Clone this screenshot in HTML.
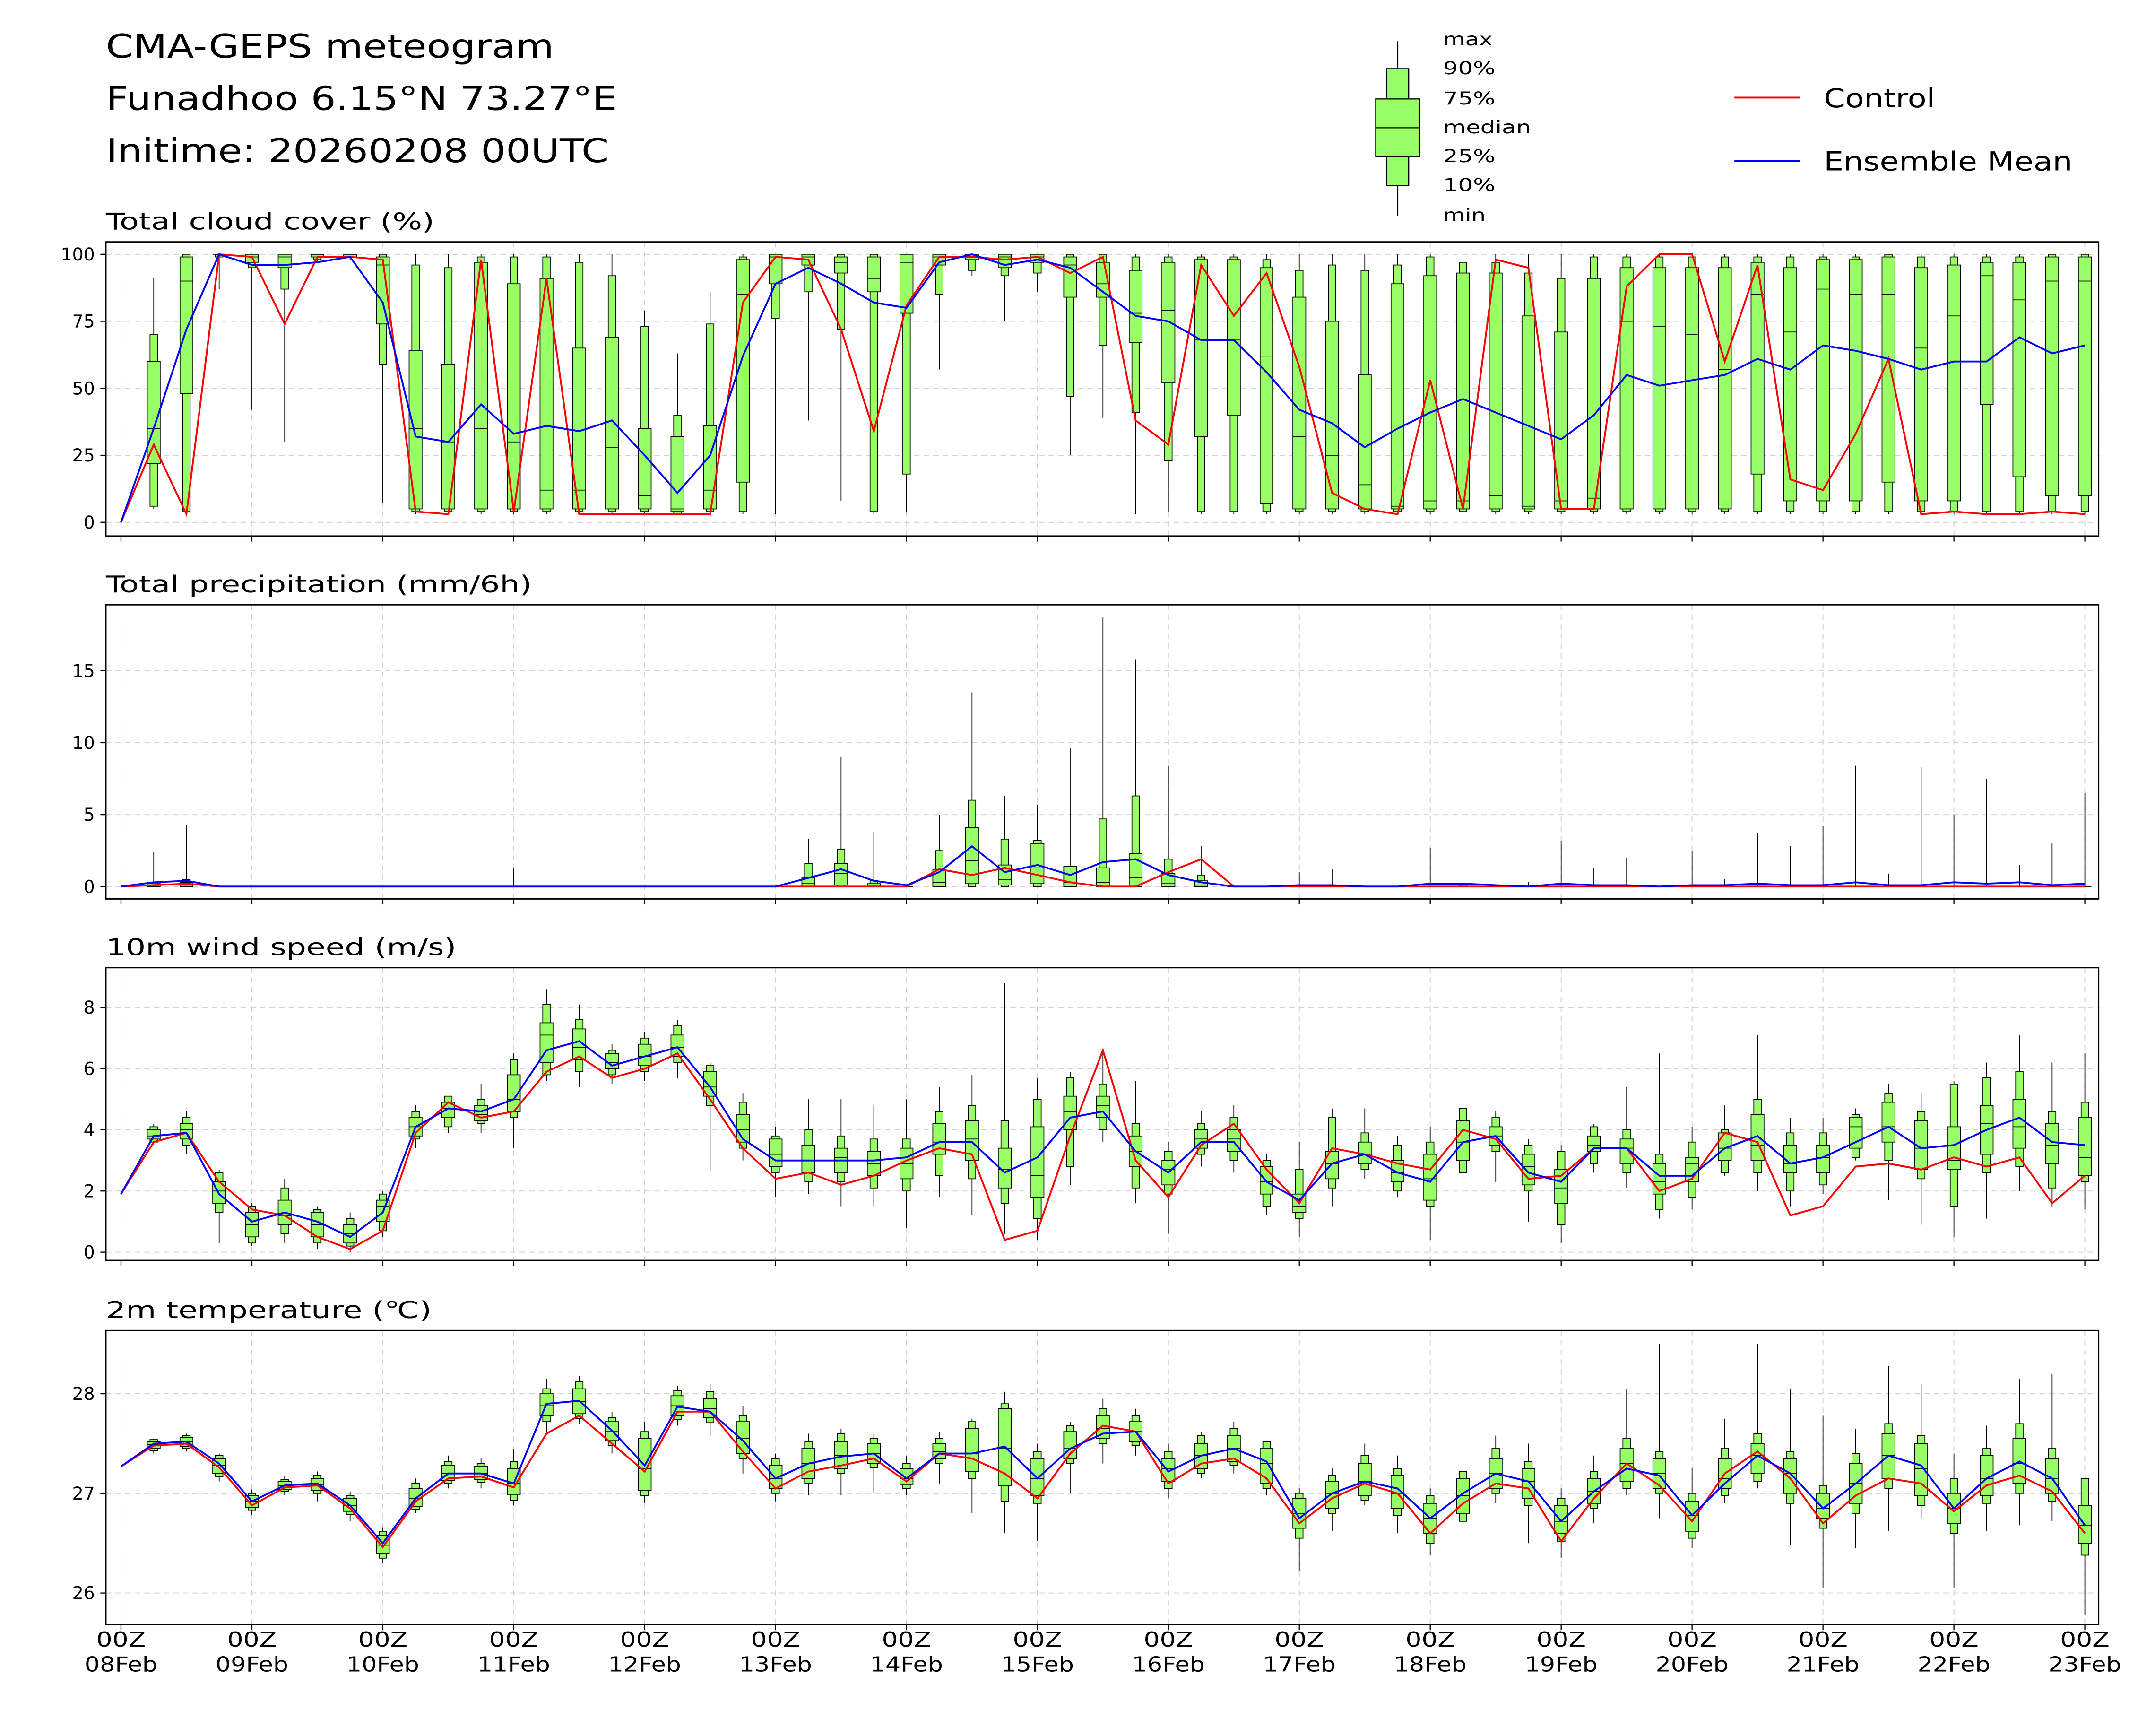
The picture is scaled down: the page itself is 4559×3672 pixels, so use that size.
<!DOCTYPE html>
<html><head><meta charset="utf-8"><style>
html,body{margin:0;padding:0;background:#fff}
svg{display:block}
text{font-family:"DejaVu Sans","Liberation Sans",sans-serif;fill:#000}
</style></head><body>
<svg id="chart" width="4559" height="3672" viewBox="0 0 1568 1263" xmlns="http://www.w3.org/2000/svg">
<rect x="0" y="0" width="1568" height="1263" fill="#fff"/>
<text x="77" y="42" font-size="24" textLength="326" lengthAdjust="spacingAndGlyphs">CMA-GEPS meteogram</text>
<text x="77" y="80" font-size="24" textLength="372" lengthAdjust="spacingAndGlyphs">Funadhoo 6.15°N 73.27°E</text>
<text x="77" y="118" font-size="24" textLength="366" lengthAdjust="spacingAndGlyphs">Initime: 20260208 00UTC</text>
<g>
<line x1="1017" y1="30" x2="1017" y2="157" stroke="#000" stroke-width="0.8"/>
<rect x="1009" y="50" width="16" height="85" fill="#99ff66" stroke="#000" stroke-width="0.8"/>
<rect x="1001" y="72" width="32" height="42" fill="#99ff66" stroke="#000" stroke-width="0.8"/>
<line x1="1001" y1="93" x2="1033" y2="93" stroke="#000" stroke-width="0.8"/>
<text x="1050" y="33" font-size="13" textLength="36" lengthAdjust="spacingAndGlyphs">max</text>
<text x="1050" y="54" font-size="13" textLength="38" lengthAdjust="spacingAndGlyphs">90%</text>
<text x="1050" y="76" font-size="13" textLength="38" lengthAdjust="spacingAndGlyphs">75%</text>
<text x="1050" y="97" font-size="13" textLength="64" lengthAdjust="spacingAndGlyphs">median</text>
<text x="1050" y="118" font-size="13" textLength="38" lengthAdjust="spacingAndGlyphs">25%</text>
<text x="1050" y="139" font-size="13" textLength="38" lengthAdjust="spacingAndGlyphs">10%</text>
<text x="1050" y="161" font-size="13" textLength="31" lengthAdjust="spacingAndGlyphs">min</text>
</g>
<g>
<line x1="1262" y1="71" x2="1310" y2="71" stroke="#ff0000" stroke-width="1.3"/>
<text x="1327" y="78" font-size="19" textLength="81" lengthAdjust="spacingAndGlyphs">Control</text>
<line x1="1262" y1="117" x2="1310" y2="117" stroke="#0000ff" stroke-width="1.3"/>
<text x="1327" y="124" font-size="19" textLength="181" lengthAdjust="spacingAndGlyphs">Ensemble Mean</text>
</g>
</svg>
<script>
const dayLabels=["08Feb","09Feb","10Feb","11Feb","12Feb","13Feb","14Feb","15Feb","16Feb","17Feb","18Feb","19Feb","20Feb","21Feb","22Feb","23Feb"];
// Cloud cover
const ccMin=[null,5,3,87,42,30,97,98,7,3,3,3,3,3,3,3,3,3,3,3,3,38,8,3,4,57,92,75,86,25,39,3,4,3,3,3,3,3,3,3,3,3,3,3,3,3,3,3,3,3,3,3,3,3,3,3,3,3,3,3,3];
const ccP10=[null,6,4,99,95,87,98,99,59,4,4,4,4,4,4,4,4,3,4,4,76,86,72,4,18,85,94,92,93,47,66,41,23,4,4,4,4,4,4,4,4,4,4,4,4,4,4,4,4,4,4,4,4,4,4,4,4,4,4,4,4];
const ccP25=[null,22,48,100,97,95,99,99,74,5,5,5,5,5,5,5,5,4,5,15,89,96,93,86,78,96,98,95,97,84,84,67,52,32,40,7,5,5,5,5,5,5,5,5,5,5,5,5,5,5,18,8,8,8,15,8,8,44,17,10,10];
const ccMed=[null,35,90,100,99,99,100,100,96,35,30,35,30,12,12,28,10,5,12,85,99,99,97,91,97,99,99,99,99,96,89,78,79,68,68,62,32,25,14,6,8,8,10,6,8,9,75,73,70,57,85,71,87,85,85,65,77,92,83,90,90];
const ccP75=[null,60,99,100,100,100,100,100,99,64,59,97,89,91,65,69,35,32,36,98,100,100,99,99,100,100,100,100,100,99,97,94,97,98,98,95,84,75,55,89,92,93,93,77,71,91,95,95,95,95,97,95,98,98,99,95,96,97,97,99,99];
const ccP90=[null,70,100,100,100,100,100,100,100,96,95,99,99,99,97,92,73,40,74,99,100,100,100,100,100,100,100,100,100,100,100,99,99,99,99,98,94,96,94,96,99,97,97,93,91,99,99,99,99,99,99,99,99,99,100,99,99,99,99,100,100];
const ccMax=[null,91,100,100,100,100,100,100,100,100,100,100,100,100,100,100,79,63,86,100,100,100,100,100,100,100,100,100,100,100,100,100,100,100,100,100,100,100,100,100,100,100,100,100,100,100,100,100,100,100,100,100,100,100,100,100,100,100,100,100,100];
const ccCtrl=[0,29,3,100,99,74,99,99,98,4,3,98,4,91,3,3,3,3,3,82,99,98,72,34,81,99,99,98,99,93,99,38,29,96,77,93,58,11,5,3,53,5,98,95,5,5,88,100,100,60,96,16,12,33,61,3,4,3,3,4,3];
const ccMean=[0,35,72,100,96,96,97,99,82,32,30,44,33,36,34,38,25,11,25,62,89,95,89,82,80,97,100,96,98,95,86,77,75,68,68,56,42,37,28,35,41,46,41,36,31,40,55,51,53,55,61,57,66,64,61,57,60,60,69,63,66];
// Precipitation
const prMin=[null,0,0,0,0,0,0,0,0,0,0,0,0,0,0,0,0,0,0,0,0,0,0,0,0,0,0,0,0,0,0,0,0,0,0,0,0,0,0,0,0,0,0,0,0,0,0,0,0,0,0,0,0,0,0,0,0,0,0,0,0];
const prP10=[null,0,0,0,0,0,0,0,0,0,0,0,0,0,0,0,0,0,0,0,0,0,0,0,0,0,0,0,0,0,0,0,0,0,0,0,0,0,0,0,0,0,0,0,0,0,0,0,0,0,0,0,0,0,0,0,0,0,0,0,0];
const prP25=[null,0,0,0,0,0,0,0,0,0,0,0,0,0,0,0,0,0,0,0,0,0,0.1,0,0,0,0.2,0.1,0.2,0,0,0,0,0,0,0,0,0,0,0,0,0,0,0,0,0,0,0,0,0,0,0,0,0,0,0,0,0,0,0,0];
const prMed=[null,0.1,0.1,0,0,0,0,0,0,0,0,0,0,0,0,0,0,0,0,0,0,0.2,0.9,0.1,0,0.3,1.8,0.5,1.3,0.3,0.3,0.6,0.2,0.1,0,0,0,0,0,0,0,0,0,0,0,0,0,0,0,0,0,0,0,0,0,0,0,0,0,0,0];
const prP75=[null,0.2,0.3,0,0,0,0,0,0,0,0,0,0,0,0,0,0,0,0,0,0,0.6,1.6,0.2,0,1.2,4.1,1.5,3.0,1.4,1.3,2.3,0.9,0.4,0,0,0,0,0,0,0,0,0,0,0,0,0,0,0,0,0,0,0,0,0,0,0,0,0,0,0];
const prP90=[null,0.3,0.5,0,0,0,0,0,0,0,0,0,0,0,0,0,0,0,0,0,0,1.6,2.6,0.4,0,2.5,6.0,3.3,3.2,1.4,4.7,6.3,1.9,0.8,0,0,0,0,0,0,0,0.1,0,0,0,0,0,0,0,0,0,0,0.1,0,0,0,0,0,0,0,0];
const prMax=[null,2.4,4.3,0,0,0,0,0,0,0,0,0,1.3,0,0,0,0,0,0,0,0,3.3,9,3.8,0.1,5,13.5,6.3,5.7,9.6,18.7,15.8,8.4,2.8,0,0,1,1.2,0,0,2.7,4.4,0,0.3,3.2,1.3,2,0,2.5,0.5,3.7,2.8,4.2,8.4,0.9,8.3,5,7.5,1.5,3,6.5];
const prCtrl=[0,0.1,0.2,0,0,0,0,0,0,0,0,0,0,0,0,0,0,0,0,0,0,0,0,0,0,1.2,0.8,1.3,0.8,0.3,0,0,1,1.9,0,0,0,0,0,0,0,0,0,0,0,0,0,0,0,0,0,0,0,0,0,0,0,0,0,0,0];
const prMean=[0,0.3,0.4,0,0,0,0,0,0,0,0,0,0,0,0,0,0,0,0,0,0,0.6,1.2,0.4,0.1,1,2.8,1,1.5,0.8,1.7,1.9,0.8,0.3,0,0,0.1,0.1,0,0,0.2,0.2,0.1,0,0.2,0.1,0.1,0,0.1,0.1,0.2,0.1,0.1,0.3,0.1,0.1,0.3,0.2,0.3,0.1,0.2];
// Wind
const wsMin=[null,3.5,3.2,0.3,0.2,0.3,0.1,0,0.5,3.4,3.9,3.9,3.4,5.6,5.4,5.5,5.6,5.7,2.7,3.0,1.8,1.9,1.5,1.5,0.8,1.8,1.2,0.6,0.4,2.2,3.6,1.6,0.6,2.8,2.6,1.2,0.5,1.5,2.4,1.8,0.4,2.1,2.3,1.0,0.3,2.6,2.1,1.1,1.4,2.5,2.0,1.5,1.9,3.0,1.7,0.9,0.5,1.1,2.0,1.5,1.4];
const wsP10=[null,3.6,3.5,1.3,0.3,0.6,0.3,0.2,0.7,3.7,4.1,4.2,4.4,5.8,5.9,5.8,5.9,6.2,4.8,3.4,2.6,2.3,2.3,2.1,2.0,2.5,2.4,1.6,1.1,2.8,4.0,2.1,1.9,3.2,3.0,1.5,1.1,2.1,2.7,2.0,1.5,2.6,3.3,2.0,0.9,2.9,2.6,1.4,1.8,2.6,2.6,2.0,2.2,3.1,3.0,2.4,1.5,2.6,2.8,2.1,2.3];
const wsP25=[null,3.7,3.7,1.6,0.5,0.9,0.5,0.3,1.0,3.8,4.4,4.3,4.6,6.2,6.3,6.0,6.1,6.4,5.1,3.6,2.8,2.6,2.6,2.5,2.4,3.2,3.0,2.1,1.8,4.0,4.4,2.8,2.2,3.4,3.3,1.9,1.3,2.4,2.9,2.3,1.7,3.0,3.5,2.2,1.6,3.3,2.9,1.9,2.3,3.0,3.0,2.6,2.6,3.4,3.6,2.7,2.7,3.2,3.4,2.9,2.5];
const wsMed=[null,3.8,4.0,2.0,0.9,1.2,0.9,0.6,1.5,4.1,4.7,4.5,5.0,7.1,6.7,6.2,6.4,6.7,5.4,4.0,3.2,3.0,3.1,2.9,2.9,3.6,3.7,2.7,2.5,4.6,4.8,3.3,2.7,3.7,3.7,2.3,1.5,2.9,3.2,2.6,2.4,3.6,3.8,2.8,2.1,3.5,3.4,2.3,2.9,3.4,3.5,2.9,3.1,4.1,4.1,3.4,3.0,4.2,4.1,3.5,3.1];
const wsP75=[null,4.0,4.2,2.3,1.3,1.7,1.3,0.9,1.7,4.4,4.9,4.8,5.8,7.5,7.3,6.5,6.8,7.1,5.9,4.5,3.7,3.5,3.4,3.3,3.4,4.2,4.3,3.4,4.1,5.1,5.1,3.8,3.0,4.0,4.0,2.8,1.9,3.3,3.6,3.0,3.2,4.3,4.1,3.2,2.7,3.8,3.7,2.9,3.1,3.9,4.5,3.5,3.5,4.4,4.9,4.3,4.1,4.8,5.0,4.2,4.4];
const wsP90=[null,4.1,4.4,2.6,1.5,2.1,1.4,1.1,1.9,4.6,5.1,5.0,6.3,8.1,7.6,6.6,7.0,7.4,6.1,4.9,3.8,4.0,3.8,3.7,3.7,4.6,4.8,4.3,5.0,5.7,5.5,4.2,3.3,4.2,4.4,3.0,2.7,4.4,3.9,3.5,3.6,4.7,4.4,3.5,3.3,4.1,4.0,3.2,3.6,4.0,5.0,3.9,3.9,4.5,5.2,4.6,5.5,5.7,5.9,4.6,4.9];
const wsMax=[null,4.2,4.6,2.7,1.6,2.4,1.5,1.3,2.0,4.8,5.1,5.5,6.5,8.6,8.1,6.8,7.2,7.6,6.2,5.2,4.1,5.0,5.0,4.8,5.0,5.4,5.8,8.8,5.7,5.9,6.5,5.6,3.6,4.6,4.8,3.2,3.6,4.7,4.7,3.8,4.1,4.8,4.6,3.7,3.5,4.2,5.4,6.5,4.1,4.8,7.1,4.4,4.4,4.7,5.5,5.2,5.6,6.2,7.1,6.2,6.5];
const wsCtrl=[1.9,3.6,3.9,2.3,1.4,1.2,0.5,0.1,0.7,3.9,4.9,4.4,4.6,5.9,6.4,5.7,6.0,6.5,5.0,3.4,2.4,2.6,2.2,2.5,3.0,3.4,3.2,0.4,0.7,3.8,6.6,3.0,1.8,3.5,4.2,2.7,1.6,3.4,3.2,2.9,2.7,4.0,3.7,2.4,2.5,3.4,3.4,2.0,2.4,3.9,3.6,1.2,1.5,2.8,2.9,2.7,3.1,2.8,3.1,1.6,2.5];
const wsMean=[1.9,3.8,3.9,1.9,1.0,1.3,1.0,0.5,1.3,4.1,4.7,4.6,5.0,6.6,6.9,6.1,6.4,6.7,5.4,3.7,3.0,3.0,3.0,3.0,3.1,3.6,3.6,2.6,3.1,4.4,4.6,3.3,2.6,3.6,3.6,2.3,1.7,2.9,3.2,2.6,2.3,3.6,3.8,2.6,2.3,3.4,3.4,2.5,2.5,3.4,3.8,2.9,3.1,3.6,4.1,3.4,3.5,4.0,4.4,3.6,3.5];
// Temperature
const tMin=[null,27.4,27.42,27.12,26.78,26.98,26.92,26.72,26.3,26.8,27.05,27.05,26.88,27.62,27.7,27.4,26.9,27.68,27.58,27.2,26.92,26.98,26.98,27.0,26.98,27.1,26.8,26.6,26.52,27.0,27.3,27.38,26.95,27.15,27.2,26.98,26.22,26.62,26.88,26.6,26.38,26.58,26.9,26.5,26.35,26.7,26.98,26.75,26.45,26.9,27.05,26.48,26.05,26.45,26.62,26.75,26.05,26.62,26.68,26.72,25.78];
const tP10=[null,27.43,27.45,27.17,26.83,27.02,27.0,26.79,26.35,26.84,27.1,27.11,26.93,27.72,27.75,27.48,26.98,27.74,27.71,27.35,27.0,27.1,27.2,27.26,27.05,27.3,27.15,26.92,26.9,27.3,27.5,27.48,27.05,27.2,27.28,27.05,26.55,26.8,26.93,26.78,26.5,26.72,27.0,26.88,26.52,26.85,27.05,27.0,26.55,26.98,27.12,26.9,26.65,26.8,27.05,26.88,26.6,26.9,27.0,26.92,26.38];
const tP25=[null,27.45,27.47,27.2,26.86,27.04,27.03,26.82,26.4,26.87,27.13,27.14,26.99,27.78,27.8,27.53,27.03,27.78,27.76,27.4,27.05,27.15,27.25,27.3,27.09,27.35,27.22,27.08,26.98,27.35,27.55,27.52,27.12,27.25,27.32,27.1,26.65,26.85,26.98,26.85,26.6,26.8,27.05,26.95,26.6,26.9,27.12,27.05,26.62,27.05,27.2,27.0,26.75,26.9,27.15,26.98,26.7,26.98,27.1,27.0,26.5];
const tMed=[null,27.49,27.52,27.28,26.92,27.08,27.09,26.88,26.48,26.95,27.2,27.2,27.1,27.88,27.92,27.62,27.25,27.88,27.85,27.55,27.15,27.3,27.38,27.4,27.15,27.42,27.4,27.45,27.15,27.45,27.65,27.62,27.25,27.38,27.45,27.3,26.8,27.0,27.12,27.0,26.75,26.98,27.2,27.12,26.72,27.02,27.3,27.2,26.78,27.15,27.38,27.2,26.85,27.1,27.38,27.25,26.85,27.15,27.3,27.15,26.68];
const tP75=[null,27.52,27.56,27.35,26.98,27.12,27.15,26.95,26.58,27.05,27.28,27.27,27.25,28.0,28.05,27.72,27.55,27.98,27.95,27.72,27.28,27.45,27.52,27.5,27.25,27.5,27.65,27.85,27.35,27.62,27.78,27.72,27.35,27.5,27.58,27.45,26.95,27.12,27.3,27.18,26.9,27.15,27.35,27.25,26.88,27.15,27.45,27.35,26.92,27.35,27.5,27.35,27.0,27.3,27.6,27.5,27.0,27.38,27.55,27.35,26.88];
const tP90=[null,27.54,27.58,27.38,27.0,27.14,27.18,26.98,26.62,27.1,27.32,27.3,27.32,28.05,28.12,27.76,27.62,28.03,28.02,27.78,27.35,27.52,27.6,27.55,27.3,27.55,27.72,27.9,27.42,27.68,27.85,27.78,27.42,27.58,27.65,27.52,27.0,27.18,27.38,27.25,26.98,27.22,27.45,27.32,26.95,27.22,27.55,27.42,27.0,27.45,27.6,27.42,27.08,27.4,27.7,27.58,27.15,27.45,27.7,27.45,27.15];
const tMax=[null,27.55,27.6,27.4,27.04,27.18,27.22,27.02,26.66,27.15,27.38,27.36,27.45,28.15,28.18,27.82,27.72,28.08,28.1,27.88,27.4,27.6,27.65,27.6,27.38,27.62,27.75,28.02,27.5,27.72,27.95,27.85,27.5,27.62,27.72,27.52,27.05,27.25,27.5,27.38,27.05,27.35,27.58,27.5,27.05,27.38,28.05,28.5,27.25,27.75,28.5,28.05,27.78,27.65,28.28,28.1,27.4,27.68,28.15,28.2,27.15];
const tCtrl=[27.27,27.48,27.5,27.26,26.88,27.06,27.08,26.85,26.46,26.92,27.15,27.17,27.06,27.6,27.78,27.5,27.22,27.82,27.82,27.42,27.05,27.22,27.28,27.35,27.12,27.4,27.35,27.2,26.95,27.4,27.68,27.62,27.1,27.3,27.35,27.15,26.7,26.95,27.1,27.0,26.6,26.9,27.1,27.05,26.52,26.95,27.3,27.08,26.72,27.2,27.42,27.15,26.7,26.98,27.15,27.1,26.82,27.08,27.18,27.02,26.6];
const tMean=[27.27,27.5,27.52,27.3,26.92,27.08,27.1,26.88,26.5,26.95,27.2,27.2,27.1,27.9,27.93,27.63,27.28,27.87,27.82,27.53,27.15,27.3,27.37,27.4,27.15,27.4,27.4,27.47,27.15,27.45,27.6,27.62,27.22,27.38,27.45,27.32,26.75,27.0,27.12,27.05,26.75,27.0,27.2,27.12,26.72,27.02,27.25,27.18,26.78,27.1,27.38,27.2,26.85,27.1,27.38,27.28,26.85,27.15,27.32,27.15,26.68];
const ccTicks=[0,25,50,75,100], prTicks=[0,5,10,15], wsTicks=[0,2,4,6,8], tTicks=[26,27,28];

const NS="http://www.w3.org/2000/svg";
const svg=document.getElementById('chart');
const X0=77,X1=1527;
function xOf(i){return 88+(1517-88)*i/60;}
function mk(tag,attrs,parent){const e=document.createElementNS(NS,tag);for(const k in attrs)e.setAttribute(k,attrs[k]);(parent||svg).appendChild(e);return e;}
const panels=[
 {name:'cloud',title:'Total cloud cover (%)',tl:239,top:176,bot:390,v0:0,y0:380,v1:100,y1:185,ticks:ccTicks,mn:ccMin,p10:ccP10,p25:ccP25,md:ccMed,p75:ccP75,p90:ccP90,mx:ccMax,ctrl:ccCtrl,mean:ccMean},
 {name:'precip',title:'Total precipitation (mm/6h)',tl:310,top:440,bot:654,v0:0,y0:645,v1:15,y1:488,ticks:prTicks,mn:prMin,p10:prP10,p25:prP25,md:prMed,p75:prP75,p90:prP90,mx:prMax,ctrl:prCtrl,mean:prMean},
 {name:'wind',title:'10m wind speed (m/s)',tl:255,top:704,bot:917,v0:0,y0:911,v1:8,y1:733,ticks:wsTicks,mn:wsMin,p10:wsP10,p25:wsP25,md:wsMed,p75:wsP75,p90:wsP90,mx:wsMax,ctrl:wsCtrl,mean:wsMean},
 {name:'temperature',title:'2m temperature (℃)',tl:237,top:968,bot:1182,v0:26,y0:1159,v1:28,y1:1014,ticks:tTicks,mn:tMin,p10:tP10,p25:tP25,md:tMed,p75:tP75,p90:tP90,mx:tMax,ctrl:tCtrl,mean:tMean}
];
panels.forEach((p,pi)=>{
 const yOf=v=>p.y0+(v-p.v0)*(p.y1-p.y0)/(p.v1-p.v0);
 const g=mk('g',{});
 
 
 const t=mk('text',{x:77,y:p.top-9,'font-size':17,textLength:p.tl,lengthAdjust:'spacingAndGlyphs'},g);t.textContent=p.title;
 
 
 p.ticks.forEach(v=>{const y=yOf(v);
  mk('line',{x1:X0,x2:X1,y1:y,y2:y,stroke:'#d3d3d3','stroke-width':0.7,'stroke-dasharray':'4,3'},g);
  mk('line',{x1:X0-4,x2:X0,y1:y,y2:y,stroke:'#000','stroke-width':0.8},g);
  const tl=mk('text',{x:X0-8,y:y+4.5,'font-size':13,'text-anchor':'end'},g);tl.textContent=v;
  
  
 });
 for(let d=0;d<=15;d++){const x=xOf(d*4);
  mk('line',{x1:x,x2:x,y1:p.top,y2:p.bot,stroke:'#d3d3d3','stroke-width':0.7,'stroke-dasharray':'4,3'},g);
  mk('line',{x1:x,x2:x,y1:p.bot,y2:p.bot+4,stroke:'#000','stroke-width':0.8},g);
 }
 for(let i=1;i<=60;i++){ if(p.mx[i]==null)continue;
  const x=xOf(i);
  const b=mk('g',{},g);
  
  
  mk('line',{x1:x,x2:x,y1:yOf(p.mn[i]),y2:yOf(p.mx[i]),stroke:'#000','stroke-width':0.6},b);
  const o1=yOf(p.p90[i]),o2=yOf(p.p10[i]);
  mk('rect',{x:x-2.7,y:Math.min(o1,o2),width:5.4,height:Math.abs(o2-o1),fill:'#99ff66',stroke:'#000','stroke-width':0.6},b);
  const i1=yOf(p.p75[i]),i2=yOf(p.p25[i]);
  mk('rect',{x:x-4.7,y:Math.min(i1,i2),width:9.4,height:Math.abs(i2-i1),fill:'#99ff66',stroke:'#000','stroke-width':0.6},b);
  const ym=yOf(p.md[i]);
  mk('line',{x1:x-4.7,x2:x+4.7,y1:ym,y2:ym,stroke:'#000','stroke-width':0.6},b);
 }
 const pts=a=>a.map((v,i)=>xOf(i).toFixed(1)+','+yOf(v).toFixed(1)).join(' ');
 const c=mk('polyline',{points:pts(p.ctrl),fill:'none',stroke:'#ff0000','stroke-width':1.3},g);
 
 
 const m=mk('polyline',{points:pts(p.mean),fill:'none',stroke:'#0000ff','stroke-width':1.3},g);
 
 
 mk('rect',{x:X0,y:p.top,width:X1-X0,height:p.bot-p.top,fill:'none',stroke:'#000','stroke-width':1},g);
 if(pi===3){
  dayLabels.forEach((lab,d)=>{const x=xOf(d*4);
   const a=mk('text',{x:x,y:1198,'font-size':15,'text-anchor':'middle',textLength:36,lengthAdjust:'spacingAndGlyphs'},g);a.textContent='00Z';
   
   
   const b2=mk('text',{x:x,y:1216,'font-size':15,'text-anchor':'middle',textLength:53,lengthAdjust:'spacingAndGlyphs'},g);b2.textContent=lab;
   
   
  });
 }
});
</script>
</body></html>
